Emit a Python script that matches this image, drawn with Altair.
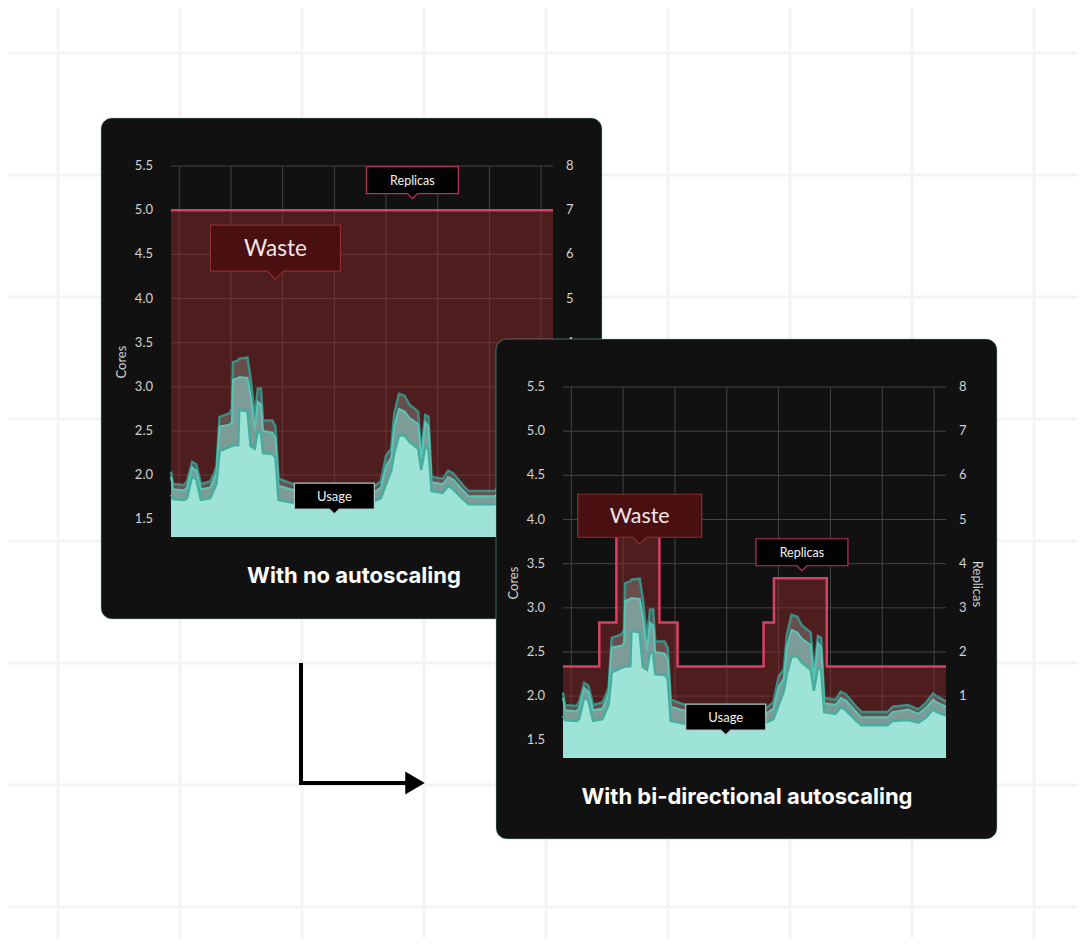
import altair as alt
import pandas as pd

# ---------------- data ----------------
# time (hours) and usage percentiles (cores)
t = [-0.16, -0.12, 0.10, 0.15, 0.25, 0.33, 0.42, 0.60, 0.66, 0.72, 0.78, 0.97, 1.02, 1.04,
     1.14, 1.16, 1.32, 1.38, 1.46, 1.52, 1.58, 1.62, 1.80, 1.86, 1.92, 2.10, 2.30, 2.60,
     2.90, 3.20, 3.50, 3.75, 3.90, 4.00, 4.10, 4.16, 4.25, 4.36, 4.45, 4.62, 4.68, 4.76,
     4.82, 4.88, 5.10, 5.20, 5.30, 5.50, 5.60, 6.10, 6.20, 6.50, 6.70, 6.85, 6.98, 7.05, 7.23]
usage_hi = [2.04, 1.90, 1.89, 1.93, 2.15, 2.12, 1.90, 1.93, 2.00, 2.10, 2.66, 2.70, 2.75, 3.28,
            3.30, 3.32, 3.33, 3.10, 2.65, 2.98, 2.98, 2.62, 2.62, 2.55, 1.96, 1.92, 1.88, 1.86,
            1.87, 1.86, 1.85, 1.86, 1.93, 2.22, 2.30, 2.70, 2.92, 2.90, 2.80, 2.72, 2.25, 2.68,
            2.66, 1.98, 1.96, 2.05, 2.02, 1.88, 1.82, 1.82, 1.88, 1.90, 1.85, 1.93, 2.03, 2.00, 1.94]
usage_mid = [1.98, 1.84, 1.83, 1.86, 2.09, 2.05, 1.84, 1.86, 1.94, 2.03, 2.55, 2.57, 2.60, 3.08,
             3.10, 3.11, 3.10, 2.90, 2.52, 2.83, 2.80, 2.50, 2.48, 2.42, 1.88, 1.85, 1.82, 1.80,
             1.81, 1.80, 1.79, 1.80, 1.86, 2.10, 2.20, 2.55, 2.75, 2.72, 2.65, 2.58, 2.18, 2.60,
             2.55, 1.92, 1.90, 1.98, 1.95, 1.82, 1.76, 1.76, 1.82, 1.85, 1.80, 1.87, 1.96, 1.93, 1.88]
usage_lo = [1.78, 1.73, 1.72, 1.74, 1.99, 1.95, 1.72, 1.74, 1.82, 1.90, 2.27, 2.32, 2.33, 2.34,
            2.34, 2.74, 2.72, 2.33, 2.30, 2.50, 2.48, 2.25, 2.24, 2.20, 1.72, 1.70, 1.68, 1.67,
            1.68, 1.67, 1.67, 1.70, 1.74, 1.90, 2.05, 2.25, 2.45, 2.45, 2.38, 2.30, 2.06, 2.32,
            2.30, 1.82, 1.80, 1.88, 1.84, 1.72, 1.67, 1.67, 1.72, 1.73, 1.70, 1.76, 1.85, 1.82, 1.78]

# replicas (right axis) for each panel
rep_t = [[-0.16, 7.23],
         [-0.16, 0.54, 0.87, 1.70, 2.05, 3.71, 3.91, 4.93, 7.23]]
rep_v = [[7, 7],
         [1.67, 2.67, 4.67, 2.67, 1.67, 2.67, 3.67, 1.67, 1.67]]

core_ticks = [1.5, 2.0, 2.5, 3.0, 3.5, 4.0, 4.5, 5.0, 5.5]
replica_ticks = [1, 2, 3, 4, 5, 6, 7, 8]
time_grid = [0, 1, 2, 3, 4, 5, 6, 7]

panel_titles = ["With no autoscaling", "With bi-directional autoscaling"]
callout_labels = ["Waste", "Replicas", "Usage"]
callout_t = [[1.86, 4.51, 3.00], [1.32, 4.45, 2.98]]
callout_c = [[4.22, 5.13, 1.56], [3.72, 3.42, 1.56]]

# ---------------- layout / style ----------------
XDOM = [-0.16, 7.23]
CDOM = [1.3, 5.5]
RDOM = [-0.4, 8]
XR = [[163, 545], [555, 938]]
YR = [[529, 158], [750, 379]]
PANEL = [(93, 110, 594, 611), (488, 331, 989, 831)]
TITLE_POS = [(346, 568), (739, 789)]
CALLOUT_DIM = [
    {"Waste": (130, 46, 8, 8, 22.5), "Replicas": (92, 27, 5, 5, 12.5), "Usage": (80, 26, 5, 5, 13)},
    {"Waste": (124, 43, 7, 7, 21.5), "Replicas": (92, 27, 5, 5, 12.5), "Usage": (80, 26, 5, 5, 13)},
]
CALLOUT_STYLE = {
    "Waste": dict(fill="#4a0f11", stroke="#8e2d33", text="#f3e6e6"),
    "Replicas": dict(fill="#030303", stroke="#b8325a", text="#f2f2f2"),
    "Usage": dict(fill="#000000", stroke="#a6cfc8", text="#f2f2f2"),
}

one = pd.DataFrame({"k": [0]})


def xs(p):
    return alt.Scale(domain=XDOM, range=XR[p], nice=False, zero=False)


def cs(p):
    return alt.Scale(domain=CDOM, range=YR[p], nice=False, zero=False)


def rs(p):
    return alt.Scale(domain=RDOM, range=YR[p], nice=False, zero=False)


def callout_path(w, h, pt, q):
    s = w / 2.0
    f = lambda v: f"{v / s:.4f}"
    top, bot = -(h + pt), -pt
    return (f"M{f(-s)},{f(top)}L{f(s)},{f(top)}L{f(s)},{f(bot)}L{f(q)},{f(bot)}"
            f"L0,0L{f(-q)},{f(bot)}L{f(-s)},{f(bot)}Z")


layers = []

# background grid of the page
for gx in range(50, 1069, 122):
    layers.append(alt.Chart(one).mark_rule(color="#f3f3f3", strokeWidth=3).encode(
        x=alt.value(gx), y=alt.value(0), y2=alt.value(930)))
for gy in range(45, 930, 122):
    layers.append(alt.Chart(one).mark_rule(color="#f3f3f3", strokeWidth=3).encode(
        y=alt.value(gy), x=alt.value(0), x2=alt.value(1069)))

# arrow
layers.append(alt.Chart(one).mark_rule(color="#000000", strokeWidth=4).encode(
    x=alt.value(293), y=alt.value(655), y2=alt.value(777)))
layers.append(alt.Chart(one).mark_rule(color="#000000", strokeWidth=4).encode(
    y=alt.value(775), x=alt.value(291), x2=alt.value(402)))
layers.append(alt.Chart(one).mark_point(shape="M-0.85,-1L0.85,0L-0.85,1Z", size=529, filled=True,
                                        fill="#000000", opacity=1, strokeWidth=0).encode(
    x=alt.value(407), y=alt.value(775)))

usage = pd.DataFrame({"t": t, "hi": usage_hi, "mid": usage_mid, "lo": usage_lo})
cores_df = pd.DataFrame({"c": core_ticks})
reps_df = pd.DataFrame({"r": replica_ticks})
tgrid_df = pd.DataFrame({"t": time_grid})

for p in range(2):
    x0, y0, x1, y1 = PANEL[p]
    # card
    layers.append(alt.Chart(one).mark_rect(fill="#111111", cornerRadius=11, stroke="#7fd1c4",
                                           strokeWidth=1, strokeOpacity=0.45).encode(
        x=alt.value(x0), x2=alt.value(x1), y=alt.value(y0), y2=alt.value(y1)))
    # gridlines
    layers.append(alt.Chart(cores_df).mark_rule(color="#444444", strokeWidth=1).encode(
        y=alt.Y("c:Q", scale=cs(p), axis=None),
        x=alt.XDatum(XDOM[0], scale=xs(p), axis=None), x2=alt.datum(XDOM[1])))
    layers.append(alt.Chart(tgrid_df).mark_rule(color="#444444", strokeWidth=1).encode(
        x=alt.X("t:Q", scale=xs(p), axis=None),
        y=alt.YDatum(CDOM[1], scale=cs(p), axis=None), y2=alt.datum(CDOM[0])))
    # waste area under replicas
    rdf = pd.DataFrame({"t": rep_t[p], "r": rep_v[p]})
    layers.append(alt.Chart(rdf).mark_area(interpolate="step-after", color="#8b2a2a", opacity=0.5).encode(
        x=alt.X("t:Q", scale=xs(p), axis=None),
        y=alt.Y("r:Q", scale=rs(p), axis=None), y2=alt.datum(RDOM[0])))
    # usage bands
    ux = alt.X("t:Q", scale=xs(p), axis=None)
    layers.append(alt.Chart(usage).mark_area(color="#9ee3d8", opacity=1).encode(
        x=ux, y=alt.Y("lo:Q", scale=cs(p), axis=None), y2=alt.datum(CDOM[0])))
    layers.append(alt.Chart(usage).mark_area(color="#7d9c98", opacity=1).encode(
        x=ux, y=alt.Y("mid:Q", scale=cs(p), axis=None), y2="lo:Q"))
    layers.append(alt.Chart(usage).mark_area(color="#8c8c8c", opacity=0.45).encode(
        x=ux, y=alt.Y("hi:Q", scale=cs(p), axis=None), y2="mid:Q"))
    layers.append(alt.Chart(usage).mark_line(color="#3c8f85", strokeWidth=2.5).encode(
        x=ux, y=alt.Y("hi:Q", scale=cs(p), axis=None)))
    layers.append(alt.Chart(usage).mark_line(color="#58c6b6", strokeWidth=2).encode(
        x=ux, y=alt.Y("mid:Q", scale=cs(p), axis=None)))
    layers.append(alt.Chart(usage).mark_line(color="#47ad9f", strokeWidth=2.5).encode(
        x=ux, y=alt.Y("lo:Q", scale=cs(p), axis=None)))
    # replicas line
    layers.append(alt.Chart(rdf).mark_line(interpolate="step-after", color="#dc3f64", strokeWidth=2.5).encode(
        x=alt.X("t:Q", scale=xs(p), axis=None),
        y=alt.Y("r:Q", scale=rs(p), axis=None)))
    # tick labels
    layers.append(alt.Chart(cores_df).mark_text(align="right", baseline="middle", dx=-18, font="Lato",
                                                fontSize=13, color="#d2d2d2").encode(
        x=alt.XDatum(XDOM[0], scale=xs(p), axis=None),
        y=alt.Y("c:Q", scale=cs(p), axis=None),
        text=alt.Text("c:Q", format=".1f")))
    layers.append(alt.Chart(reps_df).mark_text(align="left", baseline="middle", dx=13, font="Lato",
                                               fontSize=13, color="#d2d2d2").encode(
        x=alt.XDatum(XDOM[1], scale=xs(p), axis=None),
        y=alt.Y("r:Q", scale=rs(p), axis=None),
        text=alt.Text("r:Q")))
    # axis titles
    layers.append(alt.Chart(one).mark_text(text="Cores", angle=270, align="center", baseline="middle",
                                           font="Lato", fontSize=13, color="#d2d2d2").encode(
        x=alt.XDatum(XDOM[0], scale=xs(p), axis=None),
        y=alt.YDatum(3.28, scale=cs(p), axis=None),
        xOffset=alt.value(-49)))
    layers.append(alt.Chart(one).mark_text(text="Replicas", angle=90, align="center", baseline="middle",
                                           font="Lato", fontSize=13, color="#d2d2d2").encode(
        x=alt.XDatum(XDOM[1], scale=xs(p), axis=None),
        y=alt.YDatum(3.27, scale=cs(p), axis=None),
        xOffset=alt.value(31)))
    # callouts
    for i, lab in enumerate(callout_labels):
        w, h, pt, q, fs = CALLOUT_DIM[p][lab]
        st = CALLOUT_STYLE[lab]
        cdf = pd.DataFrame({"t": [callout_t[p][i]], "c": [callout_c[p][i]], "label": [lab]})
        enc = dict(x=alt.X("t:Q", scale=xs(p), axis=None), y=alt.Y("c:Q", scale=cs(p), axis=None))
        layers.append(alt.Chart(cdf).mark_point(shape=callout_path(w, h, pt, q), size=w * w, filled=True,
                                                fill=st["fill"], stroke=st["stroke"], strokeWidth=1.2,
                                                opacity=1).encode(**enc))
        layers.append(alt.Chart(cdf).mark_text(baseline="middle", align="center", dy=-(pt + h / 2.0) + 1,
                                               font="Lato", fontSize=fs, color=st["text"]).encode(
            text="label:N", **enc))
    # panel title
    tx, ty = TITLE_POS[p]
    layers.append(alt.Chart(one).mark_text(text=panel_titles[p], font="Inter", fontWeight="bold",
                                           fontSize=22, color="#ffffff", align="center",
                                           baseline="middle").encode(
        x=alt.value(tx), y=alt.value(ty)))

chart = alt.layer(*layers).resolve_scale(x="independent", y="independent").properties(
    width=1069, height=930, padding=0, autosize=alt.AutoSizeParams(type="none"),
    background="#ffffff").configure_view(strokeWidth=0)

chart.save("out.html", embed_options={"renderer": "svg", "actions": False})
